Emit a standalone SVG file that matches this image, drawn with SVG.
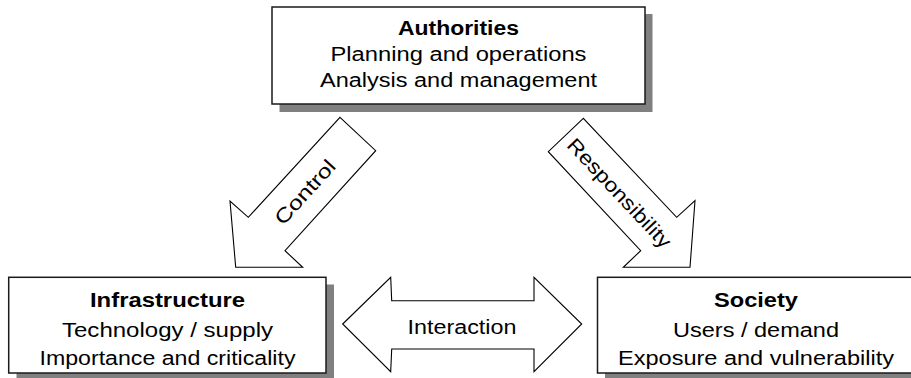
<svg xmlns="http://www.w3.org/2000/svg" width="911" height="378" viewBox="0 0 911 378">
<style>
.shadow{fill:#808080;stroke:none}
.box{fill:#fff;stroke:#1a1a1a;stroke-width:1.5}
.arrow{fill:#fff;stroke:#000;stroke-width:1.1;stroke-linejoin:miter}
text{font-family:"Liberation Sans",Arial,sans-serif;font-size:20px;fill:#000;text-anchor:middle}
.b{font-weight:bold}
</style>
<rect width="911" height="378" fill="#fff"/>
<g id="authorities">
<rect class="shadow" x="279.5" y="14" width="373" height="98"/>
<rect class="box" x="272" y="7" width="373" height="97"/>
<text class="b" x="458.5" y="34.5" textLength="121" lengthAdjust="spacingAndGlyphs">Authorities</text>
<text x="458.5" y="60.5" textLength="256" lengthAdjust="spacingAndGlyphs">Planning and operations</text>
<text x="458.5" y="87.3" textLength="277" lengthAdjust="spacingAndGlyphs">Analysis and management</text>
</g>
<g id="infrastructure">
<rect class="shadow" x="16.5" y="284.5" width="317.5" height="96"/>
<rect class="box" x="8.7" y="277.3" width="317.3" height="95.7"/>
<text class="b" x="167.5" y="307" textLength="155" lengthAdjust="spacingAndGlyphs">Infrastructure</text>
<text x="167.5" y="336.5" textLength="211" lengthAdjust="spacingAndGlyphs">Technology / supply</text>
<text x="167.5" y="364.5" textLength="256" lengthAdjust="spacingAndGlyphs">Importance and criticality</text>
</g>
<g id="society">
<rect class="shadow" x="605" y="284.5" width="317" height="96"/>
<rect class="box" x="597.5" y="277.3" width="317" height="95.7"/>
<text class="b" x="756" y="307" textLength="84" lengthAdjust="spacingAndGlyphs">Society</text>
<text x="756" y="336.5" textLength="166" lengthAdjust="spacingAndGlyphs">Users / demand</text>
<text x="756" y="364.5" textLength="276" lengthAdjust="spacingAndGlyphs">Exposure and vulnerability</text>
</g>
<g id="connectors">
<g id="control">
<polygon class="arrow" points="340,117.3 375.7,150.7 285,250.7 302.7,267.3 235.7,267.3 230,201 248.3,217.3"/>
<text transform="translate(305,192) rotate(-47.8)" x="0" y="7" textLength="80" lengthAdjust="spacingAndGlyphs">Control</text>
</g>
<g id="responsibility">
<polygon class="arrow" points="583.3,118.3 548.3,151.7 640.7,250.7 623.3,267.3 690,267.3 695,200.7 676.7,217.3"/>
<text transform="translate(619.5,193) rotate(46.8)" x="0" y="7" textLength="142" lengthAdjust="spacingAndGlyphs">Responsibility</text>
</g>
<g id="interaction">
<polygon class="arrow" points="342.7,324 390.7,277.3 391.7,300.7 534,300.7 534,277.3 581.7,324 534,371.7 534,349 391.7,349 390.7,371.7"/>
<text x="462" y="334" textLength="109" lengthAdjust="spacingAndGlyphs">Interaction</text>
</g>
</g>
</svg>
